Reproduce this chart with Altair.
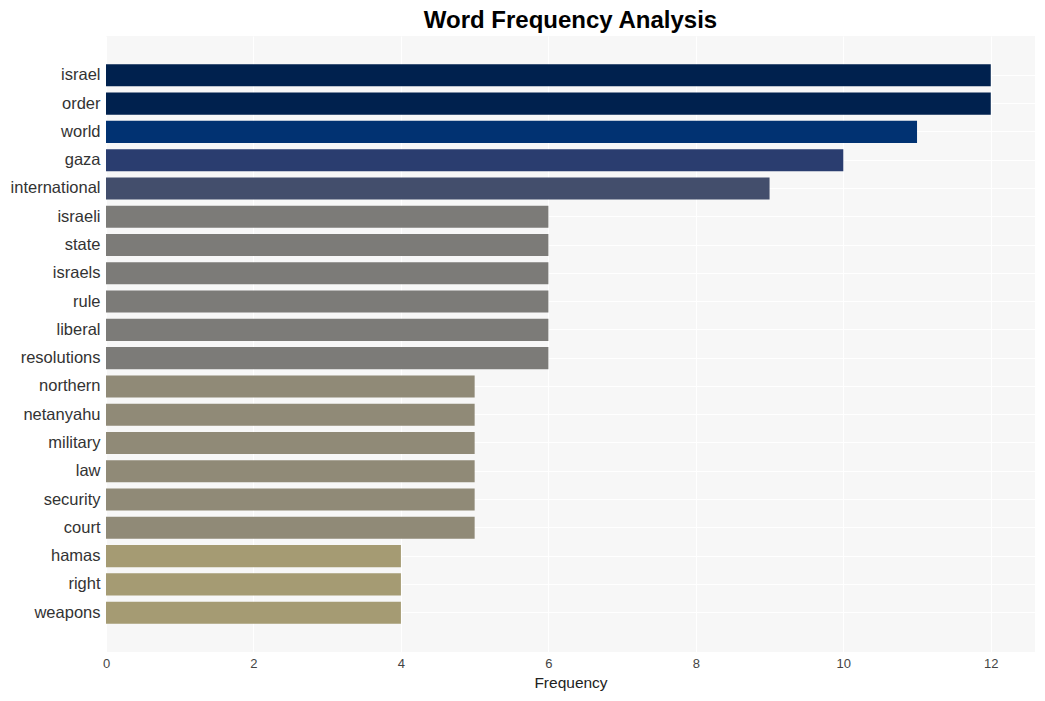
import altair as alt
import pandas as pd

words = ["israel", "order", "world", "gaza", "international", "israeli", "state",
         "israels", "rule", "liberal", "resolutions", "northern", "netanyahu",
         "military", "law", "security", "court", "hamas", "right", "weapons"]
freqs = [12, 12, 11, 10, 9, 6, 6, 6, 6, 6, 6, 5, 5, 5, 5, 5, 5, 4, 4, 4]

color_domain = [4, 5, 6, 9, 10, 11, 12]
color_range = ["#a59b73", "#908a77", "#7c7b78", "#434e6c", "#2a3d6f", "#013272", "#00214e"]

df = pd.DataFrame({"word": words, "freq": freqs})

chart = alt.Chart(df).mark_bar().encode(
    x=alt.X("freq:Q", title="Frequency",
            scale=alt.Scale(domain=[0, 12.6], nice=False, zero=True),
            axis=alt.Axis(values=[0, 2, 4, 6, 8, 10, 12], format="d", domain=False, ticks=False,
                          labelFontSize=13, labelColor="#444444", labelPadding=5, labelFlush=False,
                          titleFontSize=15.5, titleFontWeight="normal", titleColor="#222222",
                          titlePadding=5, gridColor="white", gridWidth=1.2,
                          labelFont="Liberation Sans", titleFont="Liberation Sans")),
    y=alt.Y("word:N", title=None, sort=words,
            scale=alt.Scale(paddingInner=0.22, paddingOuter=1.0),
            axis=alt.Axis(domain=False, ticks=False, labelFontSize=16.5, labelColor="#333333",
                          labelPadding=6, gridColor="white", gridWidth=1.2, grid=True,
                          labelFont="Liberation Sans", labelLimit=300, bandPosition=0.5)),
    color=alt.Color("freq:O", scale=alt.Scale(domain=color_domain, range=color_range), legend=None),
).properties(
    width=929,
    height=616,
    title=alt.TitleParams("Word Frequency Analysis", anchor="middle", fontSize=24,
                          font="Liberation Sans", fontWeight="bold", color="#000000", offset=3),
    autosize=alt.AutoSizeParams(type="none"),
    padding={"left": 106, "top": 36, "right": 10, "bottom": 49},
    background="white",
).configure_view(
    fill="#f7f7f7", stroke=None
)

chart.save("out.html", embed_options={"renderer": "svg", "actions": False})
